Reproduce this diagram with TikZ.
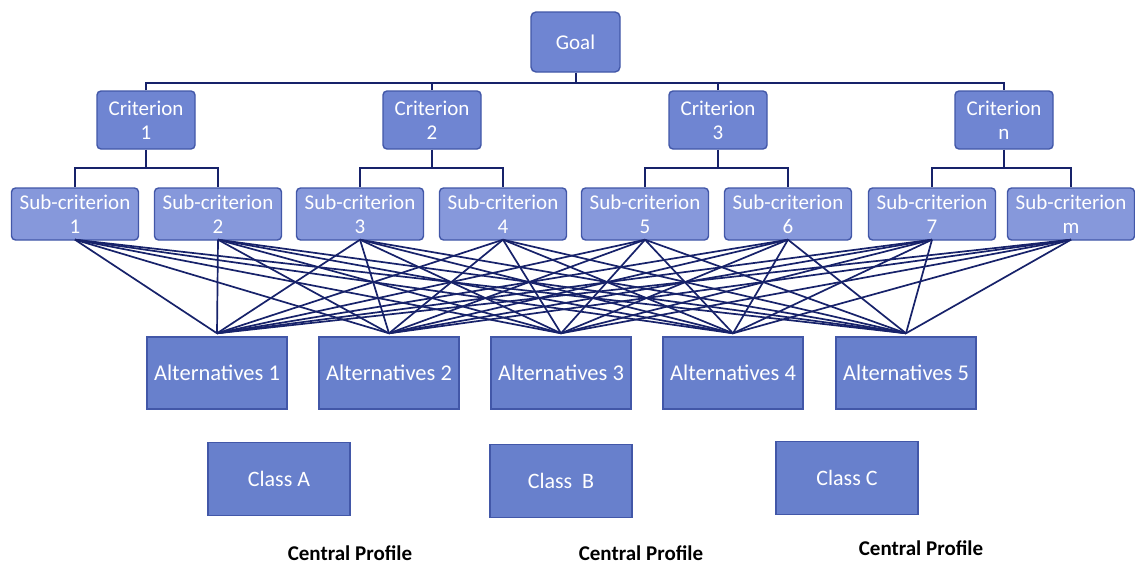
\documentclass[tikz,border=0pt]{standalone}
\usepackage{fontspec}
\setmainfont{Carlito}
\usetikzlibrary{calc}
\definecolor{boxfill}{HTML}{6F85D2}
\definecolor{subfill}{HTML}{8698DB}
\definecolor{altfill}{HTML}{6880CC}
\definecolor{boxline}{HTML}{4257A8}
\definecolor{wire}{HTML}{17226A}
\tikzset{
  x=1pt,y=-1pt,
  base/.style={draw=boxline,line width=1.4pt,text=white,align=center,inner sep=0pt,font=\fontsize{21}{24}\selectfont},
  goalbox/.style={base,fill=boxfill,rounded corners=5pt,minimum width=89pt,minimum height=60pt},
  critbox/.style={base,fill=boxfill,rounded corners=4pt,minimum width=98pt,minimum height=58pt},
  subbox/.style={base,fill=subfill,rounded corners=4pt,minimum width=127pt,minimum height=52pt},
  altbox/.style={base,fill=altfill,minimum width=140pt,minimum height=72pt,font=\fontsize{22.5}{25}\selectfont},
  classbox/.style={base,fill=altfill,minimum width=142pt,minimum height=73pt,font=\fontsize{22}{25}\selectfont},
  proflabel/.style={font=\bfseries\fontsize{21}{24}\selectfont,inner sep=0pt},
  tree/.style={draw=wire,line width=2pt},
  mesh/.style={draw=wire,line width=1.7pt},
}
\begin{document}
\begin{tikzpicture}
\useasboundingbox[fill=white] (0,0) rectangle (1135,565);
\node[goalbox] (g) at (575.5,42) {Goal};
\foreach \i/\x/\t in {1/146/1,2/432/2,3/718/3,4/1004/n}
  \node[critbox] (c\i) at (\x,120) {Criterion\\\t};
\foreach \i/\x/\t in {1/75/1,2/218/2,3/360/3,4/503/4,5/645/5,6/788/6,7/932/7,8/1071/m}
  \node[subbox] (s\i) at (\x,214) {Sub-criterion\\\t};
\foreach \i/\x in {1/217,2/389,3/561,4/733,5/906}
  \node[altbox] (a\i) at (\x,373) {Alternatives \i};
\node[classbox] (ka) at (279,479) {Class A};
\node[classbox] (kb) at (561,481) {Class\ \ B};
\node[classbox] (kc) at (847,478) {Class C};
\node[proflabel] (p1) at (350,553) {Central Profile};
\node[proflabel] (p2) at (641,553) {Central Profile};
\node[proflabel] (p3) at (921,548) {Central Profile};
% tree
\coordinate (bus) at (0,83);
\draw[tree] (g.south) -- (g.south |- bus);
\draw[tree] (c1.north) -- (c1.north |- bus) -- (c4.north |- bus) -- (c4.north);
\draw[tree] (c2.north) -- (c2.north |- bus);
\draw[tree] (c3.north) -- (c3.north |- bus);
\coordinate (sbus) at (0,168);
\foreach \c/\l/\r in {1/1/2,2/3/4,3/5/6,4/7/8}{
  \draw[tree] (c\c.south) -- (c\c.south |- sbus);
  \draw[tree] (s\l.north) -- (s\l.north |- sbus) -- (s\r.north |- sbus) -- (s\r.north);
}
% mesh
\foreach \s in {1,...,8}
  \foreach \a in {1,...,5}
    \draw[mesh] ($(s\s.south)+(0,-1)$) -- ($(a\a.north)+(0,-3)$);
\end{tikzpicture}
\end{document}
